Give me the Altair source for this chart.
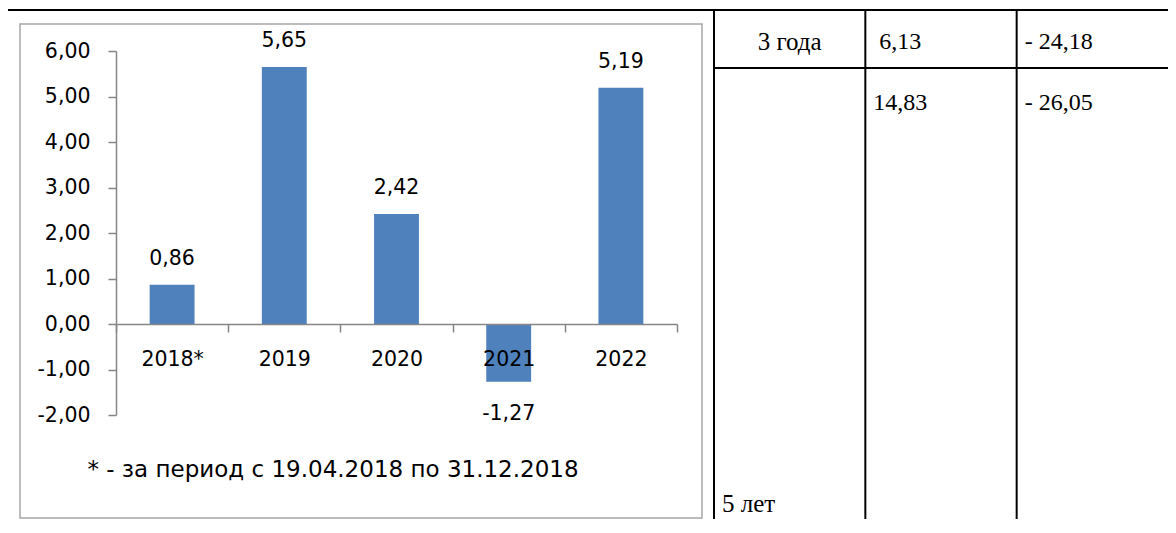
import altair as alt
import pandas as pd

# ---- data ----
years = ["2018*", "2019", "2020", "2021", "2022"]
returns = [0.86, 5.65, 2.42, -1.27, 5.19]
y_ticks = [-2, -1, 0, 1, 2, 3, 4, 5, 6]
footnote = "* - за период с 19.04.2018 по 31.12.2018"
table_cols = ["period", "c2", "c3"]
row1_period = ["3 года"]
row1_c2 = ["6,13"]
row1_c3 = ["- 24,18"]
row2_values = ["14,83", "- 26,05"]
row2_period = ["5 лет"]

df = pd.DataFrame({"year": years, "value": returns})
df["label"] = [f"{v:.2f}".replace(".", ",") for v in returns]

# ---- layout ----
W, H = 561, 364
PAD_L, PAD_T = 108, 43
PAD_R = 1160 - PAD_L - W
PAD_B = 511 - PAD_T - H
ZERO_OFFSET = -(H - H * 6 / 8)
T_LEFT, T_RIGHT = 598, 1052
BAND = (T_RIGHT - T_LEFT) / 3
CELL_DX = 8 - BAND / 2

FONT = "DejaVu Sans"
SERIF = "Liberation Serif"
BLUE = "#4F81BD"
AXIS_GREY = "#868686"
BORDER_GREY = "#a6a6a6"

xscale = alt.Scale(paddingInner=0, paddingOuter=0)
x_bar = alt.X(
    "year:N", sort=years, scale=xscale,
    axis=alt.Axis(title=None, labelAngle=0, offset=ZERO_OFFSET, tickBand="extent",
                  tickSize=8, labelPadding=17, domainColor=AXIS_GREY, tickColor=AXIS_GREY,
                  domainWidth=1.5, tickWidth=1.5, labelFont=FONT, labelFontSize=20.5,
                  labelColor="black", zindex=1),
)
y_bar = alt.Y(
    "value:Q", scale=alt.Scale(domain=[-2, 6], nice=False, zero=False),
    axis=alt.Axis(values=y_ticks, title=None, grid=False, tickSize=8, labelPadding=18,
                  domainColor=AXIS_GREY, tickColor=AXIS_GREY, domainWidth=1.5, tickWidth=1.5,
                  labelFont=FONT, labelFontSize=20.5, labelColor="black",
                  labelExpr="replace(replace(format(datum.value, '.2f'), '.', ','), '\u2212', '-')"),
)

bars = alt.Chart(df).mark_bar(color=BLUE, width=alt.RelativeBandSize(0.4)).encode(x=x_bar, y=y_bar)
pos_lab = alt.Chart(df).transform_filter("datum.value >= 0").mark_text(
    font=FONT, fontSize=20.5, baseline="alphabetic", dy=-20, color="black"
).encode(x=alt.X("year:N", sort=years), y="value:Q", text="label:N")
neg_lab = alt.Chart(df).transform_filter("datum.value < 0").mark_text(
    font=FONT, fontSize=20.5, baseline="alphabetic", dy=38, color="black"
).encode(x=alt.X("year:N", sort=years), y="value:Q", text="label:N")
bar_group = alt.layer(bars, pos_lab, neg_lab)

one = pd.DataFrame({"a": [0]})
note = alt.Chart(pd.DataFrame({"t": [footnote]})).mark_text(
    font=FONT, fontSize=23, align="center", baseline="middle", color="black"
).encode(text="t:N", x=alt.value(217), y=alt.value(419))

border = alt.Chart(one).mark_rect(fillOpacity=0, stroke=BORDER_GREY, strokeWidth=1.5).encode(
    x=alt.value(-96), x2=alt.value(586), y=alt.value(-27), y2=alt.value(467))

top_line = alt.Chart(one).mark_rule(color="black", strokeWidth=2).encode(
    x=alt.value(-108), x2=alt.value(T_RIGHT), y=alt.value(-41))
row_line = alt.Chart(one).mark_rule(color="black", strokeWidth=2).encode(
    x=alt.value(T_LEFT), x2=alt.value(T_RIGHT), y=alt.value(17))
vlines = [
    alt.Chart(one).mark_rule(color="black", strokeWidth=2).encode(
        x=alt.value(xv), y=alt.value(-41), y2=alt.value(470))
    for xv in (T_LEFT, T_LEFT + BAND, T_LEFT + 2 * BAND)
]

tscale = alt.Scale(domain=table_cols, range=[T_LEFT, T_RIGHT], paddingInner=0, paddingOuter=0)
tx = alt.X("col:N", scale=tscale, axis=None)

t_row1_period = alt.Chart(pd.DataFrame({"col": ["period"], "text": row1_period})).mark_text(
    font=SERIF, fontSize=25, align="center", baseline="middle", color="black"
).encode(x=tx, y=alt.value(-9), text="text:N")
t_row1_c2 = alt.Chart(pd.DataFrame({"col": ["c2"], "text": row1_c2})).mark_text(
    font=SERIF, fontSize=24, align="left", baseline="middle", dx=CELL_DX + 6, color="black"
).encode(x=tx, y=alt.value(-9), text="text:N")
t_row1_c3 = alt.Chart(pd.DataFrame({"col": ["c3"], "text": row1_c3})).mark_text(
    font=SERIF, fontSize=24, align="left", baseline="middle", dx=CELL_DX, color="black"
).encode(x=tx, y=alt.value(-9), text="text:N")
t_row2_vals = alt.Chart(pd.DataFrame({"col": ["c2", "c3"], "text": row2_values})).mark_text(
    font=SERIF, fontSize=24, align="left", baseline="middle", dx=CELL_DX, color="black"
).encode(x=tx, y=alt.value(52), text="text:N")
t_row2_period = alt.Chart(pd.DataFrame({"col": ["period"], "text": row2_period})).mark_text(
    font=SERIF, fontSize=25, align="left", baseline="middle", dx=CELL_DX, color="black"
).encode(x=tx, y=alt.value(453), text="text:N")
table_group = alt.layer(t_row1_period, t_row1_c2, t_row1_c3, t_row2_vals, t_row2_period)

chart = alt.layer(
    border, top_line, row_line, *vlines, note, bar_group, table_group
).resolve_scale(x="independent").properties(
    width=W, height=H,
    autosize=alt.AutoSizeParams(type="none"),
    padding={"left": PAD_L, "top": PAD_T, "right": PAD_R, "bottom": PAD_B},
    background="white",
).configure_view(stroke=None)

chart.save("out.html", embed_options={"renderer": "svg", "actions": False})
